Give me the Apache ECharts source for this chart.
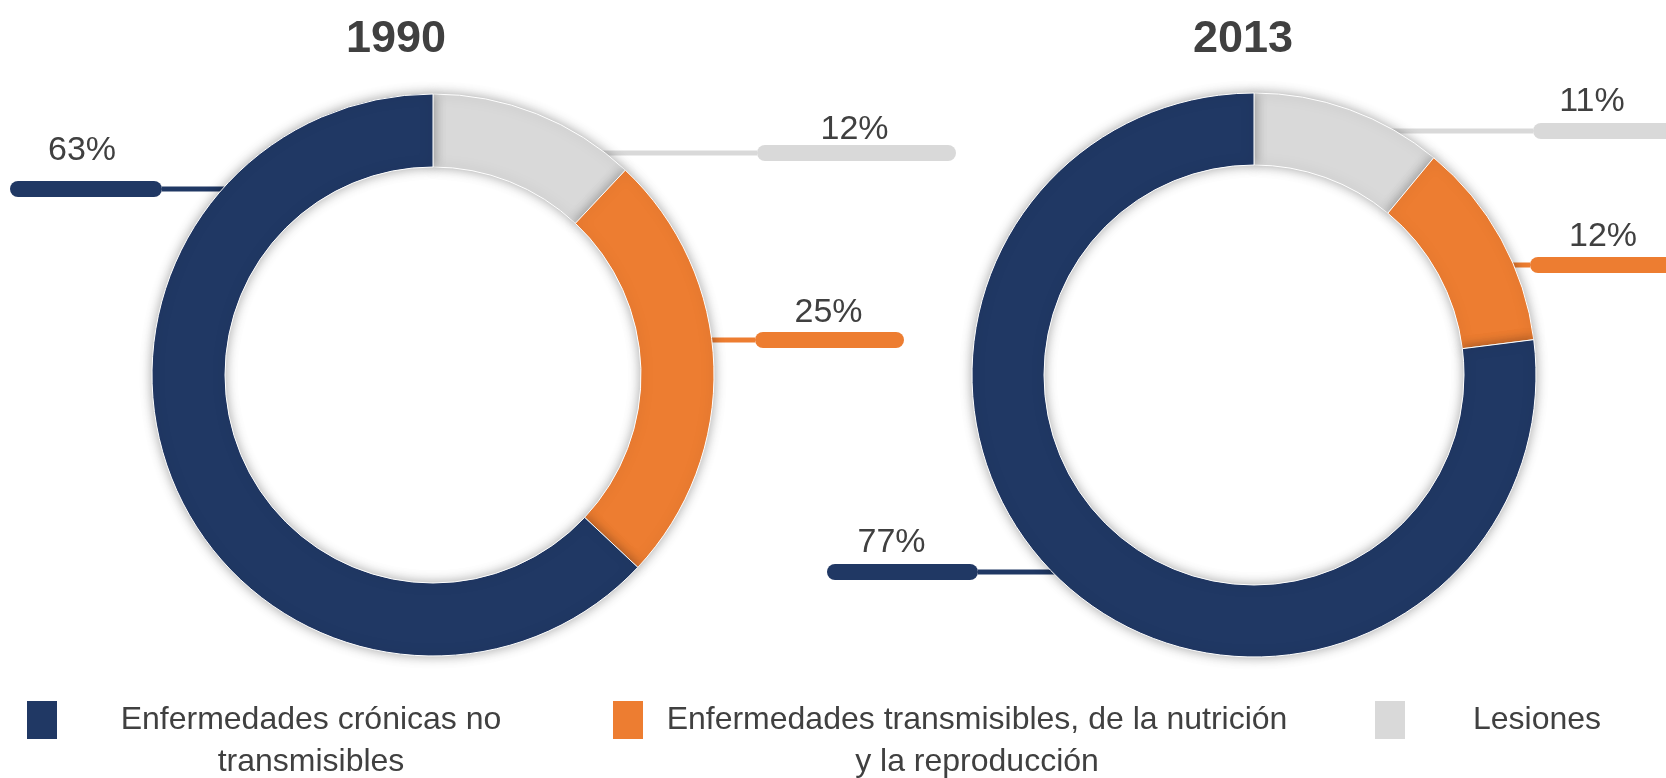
<!DOCTYPE html>
<html>
<head>
<meta charset="utf-8">
<script src="https://cdn.jsdelivr.net/npm/echarts@6/dist/echarts.min.js"></script>
<style>
  html, body { margin: 0; padding: 0; background: #fff; }
  #chart { width: 1666px; height: 778px; }
</style>
</head>
<body>
<div id="chart"></div>
<script>
// datos (orden de los sectores: en sentido horario desde las 12)
var YEARS = ['1990', '2013'];
var CATEGORIES = [
  'Lesiones',
  'Enfermedades transmisibles, de la nutrición\ny la reproducción',
  'Enfermedades crónicas no\ntransmisibles'
];
var VALUES_1990 = [12, 25, 63];
var VALUES_2013 = [11, 12, 77];
var COLORS = ['#D9D9D9', '#ED7D31', '#203864'];
var LEGEND_ORDER = [2, 1, 0];

// estilo
var FONT = "'Liberation Sans', Arial, sans-serif";
var TXT = '#404040';
var CENTERS = [[433, 375], [1254, 375]];
var RADII = [[208, 281], [210, 282]];
var TITLE_X = [396, 1243];

// posición de cada etiqueta: y de la barra, borde de la barra junto al anillo,
// ancho de la barra, hueco texto-barra, desplazamiento del texto
var LABEL_POS = [
  [{ y: 153, x: 757, w: 199, gap: 3, dx: -2 },
   { y: 340, x: 755, w: 149, gap: 7, dx: -1 },
   { y: 189, x: 162, w: 152, gap: 18, dx: -4 }],
  [{ y: 131, x: 1533, w: 150, gap: 9, dx: -16 },
   { y: 265, x: 1530, w: 150, gap: 8, dx: -2 },
   { y: 572, x: 978, w: 151, gap: 9, dx: -11 }]
];

// leyenda: x del icono, ancho del texto
var LEGEND_POS = [
  { left: 25, w: 496 },
  { left: 611, w: 656 },
  { left: 1373, w: 252 }
];

function makeData(values, s) {
  return values.map(function (v, i) {
    var p = LABEL_POS[s][i];
    var shift = Math.abs(p.dx) * 2;
    return {
      name: CATEGORIES[i],
      value: v,
      itemStyle: { color: COLORS[i] },
      label: {
        rich: {
          t: {
            width: p.w - shift,
            padding: p.dx < 0 ? [0, shift, 0, 0] : [0, 0, 0, shift],
            align: 'center',
            fontSize: 34,
            lineHeight: 2 * p.gap + 24,
            color: TXT,
            fontFamily: FONT
          },
          b: {
            width: p.w, height: 16, lineHeight: 16, fontSize: 1,
            borderRadius: 8, backgroundColor: COLORS[i]
          }
        }
      }
    };
  });
}

function makePie(values, s) {
  var c = CENTERS[s];
  var rOut = RADII[s][1];
  return {
    type: 'pie',
    center: c,
    radius: RADII[s],
    startAngle: 90,
    clockwise: true,
    avoidLabelOverlap: false,
    silent: true,
    itemStyle: {
      borderColor: '#fff', borderWidth: 1,
      shadowBlur: 12, shadowColor: 'rgba(0,0,0,0.35)'
    },
    label: {
      show: true,
      position: 'outside',
      formatter: function (p) { return '{t|' + p.value + '%}\n{b|}'; }
    },
    labelLine: { show: true, length: 10, length2: 10, lineStyle: { width: 5 } },
    labelLayout: function (params) {
      var p = LABEL_POS[s][params.dataIndex];
      var left = p.x < c[0];
      var dy = p.y - c[1];
      var ax = c[0] + (left ? -1 : 1) * Math.sqrt((rOut - 3) * (rOut - 3) - dy * dy);
      return {
        x: p.x,
        y: p.y + 8,
        align: left ? 'right' : 'left',
        verticalAlign: 'bottom',
        labelLinePoints: [[ax, p.y], [(ax + p.x) / 2, p.y], [p.x, p.y]]
      };
    },
    data: makeData(values, s)
  };
}

function makeLegend(k) {
  var idx = LEGEND_ORDER[k];
  var pos = LEGEND_POS[k];
  var name = CATEGORIES[idx];
  var lines = name.split('\n').length;
  return {
    left: pos.left,
    top: 699,
    padding: 0,
    selectedMode: false,
    itemWidth: 32,
    itemHeight: 40,
    data: [{ name: name, icon: 'rect' }],
    formatter: function (n) {
      return n.split('\n').map(function (l) { return '{n|' + l + '}'; }).join('\n');
    },
    textStyle: {
      padding: [lines > 1 ? 42 : 0, 0, 0, 0],
      rich: {
        n: { width: pos.w, align: 'center', fontSize: 32, lineHeight: 42, color: TXT, fontFamily: FONT }
      }
    }
  };
}

var chart = echarts.init(document.getElementById('chart'), null, { renderer: 'canvas' });
chart.setOption({
  animation: false,
  backgroundColor: '#fff',
  title: YEARS.map(function (y, i) {
    return {
      text: y, left: TITLE_X[i], top: 17, textAlign: 'center', padding: 0,
      textStyle: { fontSize: 45, fontWeight: 'bold', color: TXT, fontFamily: FONT }
    };
  }),
  legend: [0, 1, 2].map(makeLegend),
  series: [makePie(VALUES_1990, 0), makePie(VALUES_2013, 1)]
});
</script>
</body>
</html>
